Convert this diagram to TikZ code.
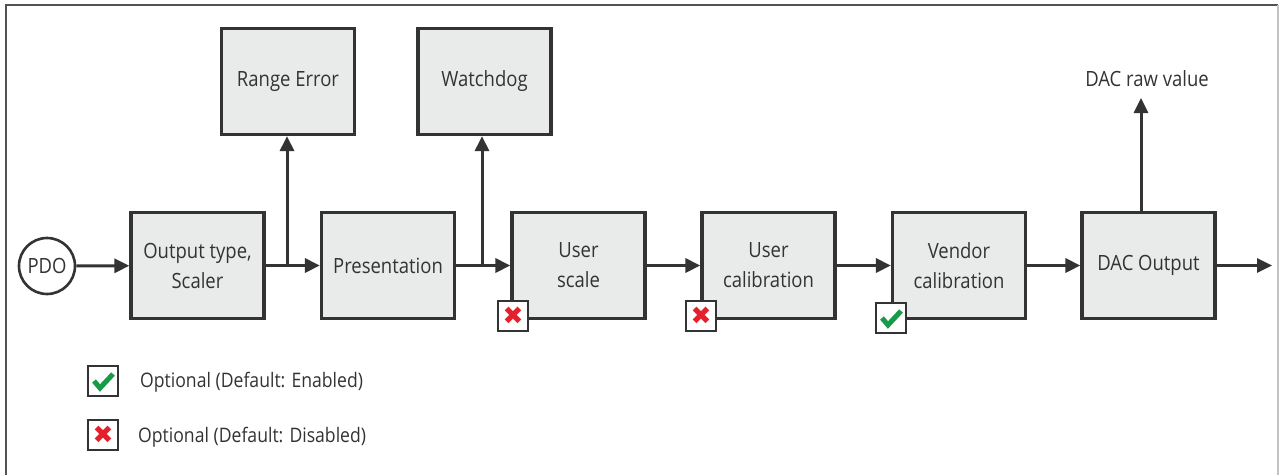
\documentclass[tikz,border=0pt]{standalone}
\usepackage{fontspec}
\setmainfont{Open Sans}[FakeStretch=0.88]
\newfontfamily\symfont{DejaVu Sans}
\usetikzlibrary{arrows.meta}
\definecolor{boxfill}{HTML}{E9EAEA}
\definecolor{linec}{HTML}{333333}
\definecolor{txtc}{HTML}{333333}
\definecolor{okgreen}{HTML}{169B48}
\definecolor{nored}{HTML}{E3202B}
\tikzset{
  blk/.style={draw=linec, line width=3.2pt, fill=boxfill, minimum width=133pt, minimum height=106pt, align=center, text=txtc, font=\fontsize{21}{30}\selectfont, inner sep=0pt},
  circ/.style={circle, draw=linec, line width=2.6pt, fill=white, minimum size=56pt, inner sep=0pt, text=txtc, font=\fontsize{21}{24}\selectfont},
  arr/.style={draw=linec, line width=3pt, -{Triangle[length=15pt,width=14pt]}},
  badge/.style={draw=linec, line width=2.8pt, fill=white, minimum size=30pt, inner sep=0pt},
  lbl/.style={text=txtc, font=\fontsize{21}{24}\selectfont, inner sep=0pt},
  leg/.style={text=txtc, font=\fontsize{20}{22}\selectfont, anchor=west, inner sep=0pt},
  chk/.style={draw=okgreen, line width=5pt, line join=miter, line cap=butt},
  nomark/.style={text=nored, font=\symfont\fontsize{25}{25}\selectfont, inner sep=0pt}
}
\begin{document}
\begin{tikzpicture}[x=1pt,y=-1pt]
\useasboundingbox (0,0) rectangle (1280,474);
% frame
\draw[draw=linec!85, line width=2.4pt] (6,490) -- (6,5) -- (1278,5);
\draw[draw=linec!30, line width=1.8pt] (1278,5) -- (1278,490);
% nodes
\node[circ] (pdo) at (47,266) {PDO};
\node[blk] (ots) at (197.5,265.5) {Output type,\\Scaler};
\node[blk] (pres) at (388,265.5) {Presentation};
\node[blk] (us) at (578.5,265.5) {User\\scale};
\node[blk] (uc) at (768.5,265.5) {User\\calibration};
\node[blk] (vc) at (959,265.5) {Vendor\\calibration};
\node[blk] (dac) at (1148.5,265.5) {DAC Output};
\node[blk] (re) at (288,81.5) {Range Error};
\node[blk] (wd) at (484.5,81.5) {Watchdog};
\node[lbl] (raw) at (1147,79) {DAC raw value};
% connectors
\coordinate (br1) at (287,265.5);
\coordinate (br2) at (482,265.5);
\coordinate (rawtip) at (1141,98);
\coordinate (outend) at (1272,265.5);
\draw[arr] (pdo) -- (ots);
\draw[arr] (ots) -- (pres);
\draw[arr] (br1) -- (br1 |- re.south);
\draw[arr] (pres) -- (us);
\draw[arr] (br2) -- (br2 |- wd.south);
\draw[arr] (us) -- (uc);
\draw[arr] (uc) -- (vc);
\draw[arr] (vc) -- (dac);
\draw[arr] (dac) -- (outend);
\draw[arr] (rawtip |- dac.north) -- (rawtip);
% badges
\node[badge] (bus) at (513,316) {};
\node[nomark] (xus) at (bus) {✖};
\node[badge] (buc) at (701,316) {};
\node[nomark] (xuc) at (buc) {✖};
\node[badge] (bvc) at (891,318) {};
\draw[chk] ([shift={(-9,0)}]bvc.center) -- ([shift={(-3,7)}]bvc.center) -- ([shift={(10,-7)}]bvc.center);
% legend
\node[badge] (lok) at (103,381) {};
\draw[chk] ([shift={(-9,0)}]lok.center) -- ([shift={(-3,7)}]lok.center) -- ([shift={(10,-7)}]lok.center);
\node[leg] (loktxt) at (140,382) {Optional (Default: Enabled)};
\node[badge] (lno) at (103,435) {};
\node[nomark] (lnom) at (lno) {✖};
\node[leg] (lnotxt) at (138,437) {Optional (Default: Disabled)};
\end{tikzpicture}
\end{document}
